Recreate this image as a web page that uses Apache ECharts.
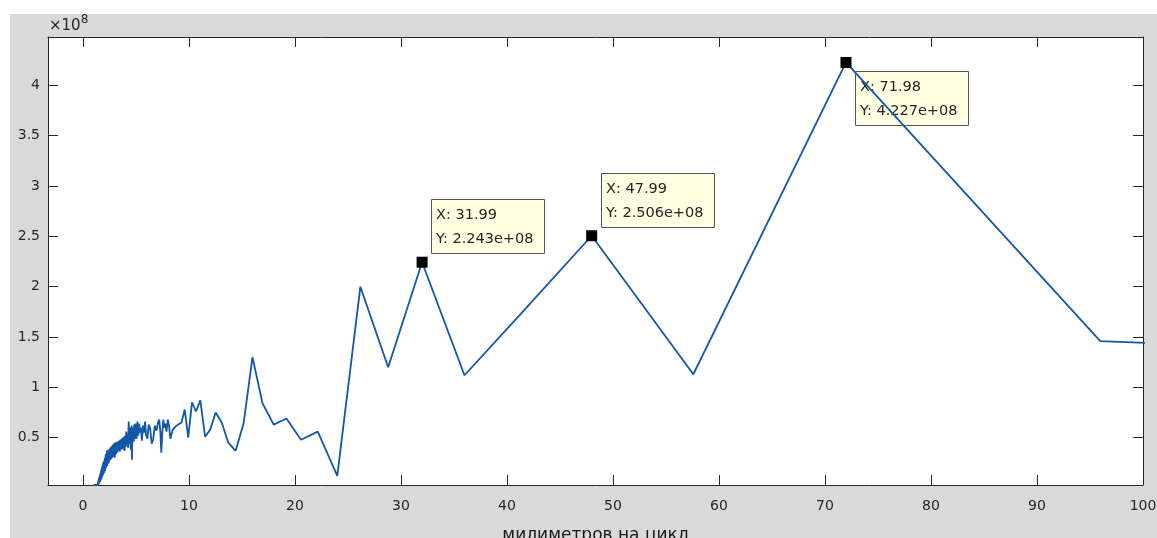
<!DOCTYPE html>
<html>
<head>
<meta charset="utf-8">
<title>Спектр</title>
<script src="https://cdn.jsdelivr.net/npm/echarts@6/dist/echarts.min.js"></script>
<style>
  html, body { margin: 0; padding: 0; background: #ffffff; }
  #chart { width: 1157px; height: 538px; }
</style>
</head>
<body>
<div id="chart"></div>
<script>
// Period (mm per cycle)
const periods = [
  1.00, 1.20, 1.40, 1.42, 1.44, 1.46, 1.48, 1.50, 1.52, 1.54,
  1.56, 1.58, 1.60, 1.62, 1.64, 1.66, 1.68, 1.70, 1.72, 1.74,
  1.76, 1.78, 1.80, 1.82, 1.84, 1.86, 1.88, 1.90, 1.92, 1.94,
  1.96, 1.98, 2.00, 2.02, 2.04, 2.06, 2.08, 2.10, 2.12, 2.14,
  2.16, 2.18, 2.20, 2.22, 2.24, 2.26, 2.28, 2.30, 2.32, 2.34,
  2.36, 2.38, 2.40, 2.42, 2.44, 2.46, 2.48, 2.50, 2.52, 2.54,
  2.56, 2.58, 2.60, 2.62, 2.64, 2.66, 2.68, 2.70, 2.72, 2.74,
  2.76, 2.78, 2.80, 2.82, 2.84, 2.86, 2.88, 2.90, 2.92, 2.94,
  2.96, 2.98, 3.00, 3.03, 3.06, 3.09, 3.12, 3.15, 3.18, 3.21,
  3.24, 3.27, 3.30, 3.33, 3.36, 3.39, 3.42, 3.45, 3.48, 3.51,
  3.54, 3.57, 3.60, 3.63, 3.66, 3.69, 3.72, 3.75, 3.78, 3.81,
  3.84, 3.87, 3.90, 3.93, 3.96, 3.99, 4.02, 4.05, 4.08, 4.11,
  4.14, 4.17, 4.20, 4.23, 4.26, 4.29, 4.32, 4.35, 4.38, 4.41,
  4.44, 4.47, 4.50, 4.53, 4.56, 4.59, 4.62, 4.65, 4.68, 4.71,
  4.74, 4.77, 4.80, 4.83, 4.86, 4.89, 4.92, 4.95, 4.98, 5.06,
  5.14, 5.22, 5.30, 5.38, 5.46, 5.56, 5.66, 5.76, 5.86, 5.96,
  6.08, 6.20, 6.34, 6.48, 6.62, 6.78, 6.94, 7.10, 7.20, 7.30,
  7.39, 7.48, 7.58, 7.68, 7.78, 7.88, 8.00, 8.12, 8.24, 8.47,
  8.72, 9.00, 9.29, 9.60, 9.93, 10.28, 10.66, 11.07, 11.52, 12.00,
  12.52, 13.09, 13.71, 14.40, 15.15, 15.99, 16.94, 17.99, 19.19, 20.57,
  22.15, 23.99, 26.17, 28.79, 31.99, 35.99, 41.13, 47.99, 57.58, 71.98,
  95.97, 143.96
];
// Spectral power (x 1e8)
const power = [
  0.03, 0.03, 0.03, 0.06, 0.03, 0.08, 0.04, 0.10, 0.05, 0.11,
  0.05, 0.12, 0.06, 0.14, 0.07, 0.15, 0.08, 0.17, 0.09, 0.19,
  0.10, 0.20, 0.11, 0.22, 0.12, 0.21, 0.13, 0.25, 0.14, 0.25,
  0.15, 0.27, 0.15, 0.26, 0.17, 0.30, 0.17, 0.29, 0.19, 0.33,
  0.20, 0.34, 0.21, 0.33, 0.22, 0.37, 0.22, 0.35, 0.24, 0.38,
  0.24, 0.36, 0.25, 0.38, 0.25, 0.37, 0.27, 0.39, 0.27, 0.38,
  0.28, 0.40, 0.28, 0.39, 0.29, 0.41, 0.29, 0.40, 0.30, 0.42,
  0.30, 0.41, 0.31, 0.43, 0.31, 0.42, 0.32, 0.44, 0.32, 0.43,
  0.33, 0.45, 0.30, 0.43, 0.33, 0.45, 0.34, 0.46, 0.35, 0.44,
  0.35, 0.46, 0.38, 0.44, 0.37, 0.47, 0.39, 0.43, 0.36, 0.48,
  0.40, 0.45, 0.38, 0.49, 0.41, 0.46, 0.39, 0.50, 0.42, 0.47,
  0.38, 0.51, 0.43, 0.37, 0.52, 0.44, 0.49, 0.41, 0.56, 0.45,
  0.51, 0.43, 0.54, 0.46, 0.40, 0.58, 0.66, 0.47, 0.55, 0.44,
  0.60, 0.48, 0.38, 0.57, 0.49, 0.62, 0.28, 0.53, 0.47, 0.60,
  0.50, 0.56, 0.46, 0.63, 0.51, 0.58, 0.49, 0.64, 0.52, 0.49,
  0.66, 0.52, 0.64, 0.55, 0.60, 0.47, 0.62, 0.55, 0.66, 0.52,
  0.49, 0.63, 0.59, 0.44, 0.48, 0.62, 0.57, 0.66, 0.68, 0.55,
  0.35, 0.55, 0.68, 0.60, 0.64, 0.56, 0.68, 0.62, 0.49, 0.58,
  0.61, 0.63, 0.65, 0.78, 0.50, 0.85, 0.76, 0.87, 0.51, 0.58,
  0.75, 0.65, 0.45, 0.37, 0.64, 1.30, 0.84, 0.63, 0.69, 0.48,
  0.56, 0.12, 2.00, 1.20, 2.243, 1.12, 1.71, 2.506, 1.13, 4.227,
  1.46, 1.26
];

// Annotated peaks (data tips)
const tipX = [31.99, 47.99, 71.98];
const tipY = [2.243, 2.506, 4.227];

// Axis ticks
const xTicks = [0, 10, 20, 30, 40, 50, 60, 70, 80, 90, 100];
const yTicks = [0.5, 1, 1.5, 2, 2.5, 3, 3.5, 4];
const xLabel = 'милиметров на цикл';

// Tip box placement relative to its marker
const tipPlace = ['up', 'up', 'down'];

const FONT = '"DejaVu Sans", Verdana, sans-serif';
const INK = '#262626';
const X_MIN = -3.3, X_MAX = 100, Y_MIN = 0.03, Y_MAX = 4.48;

const chart = echarts.init(document.getElementById('chart'), null, { renderer: 'canvas' });

function frameAxis(extra, ticks) {
  return Object.assign({
    type: 'value',
    axisLine: { show: true, onZero: false, lineStyle: { color: INK, width: 1 } },
    axisTick: { show: true, inside: true, length: 10, customValues: ticks, lineStyle: { color: INK, width: 1 } },
    splitLine: { show: false }
  }, extra);
}

const fmtY = v => v.toFixed(3) + 'e+08';

const option = {
  animation: false,
  backgroundColor: '#ffffff',
  graphic: [
    { type: 'rect', z: -10, shape: { x: 10, y: 14, width: 1147, height: 524 }, style: { fill: '#d9d9d9' }, silent: true },
    {
      type: 'text', left: 49, top: 14, z: 10,
      style: {
        text: '{a|×10}{s|8}',
        rich: {
          a: { fontSize: 15, fontFamily: FONT, fill: INK, padding: [6, 0, 0, 0] },
          s: { fontSize: 12, fontFamily: FONT, fill: INK, padding: [0, 0, 6, 0] }
        }
      }
    }
  ],
  grid: {
    left: 48, top: 37, right: 14, bottom: 53,
    outerBoundsMode: 'none', containLabel: false,
    show: true, backgroundColor: '#ffffff', borderWidth: 0
  },
  xAxis: [
    frameAxis({
      min: X_MIN, max: X_MAX, position: 'bottom',
      axisLabel: { customValues: xTicks, color: INK, fontSize: 14, fontFamily: FONT, margin: 14 },
      name: xLabel, nameLocation: 'middle', nameGap: 42,
      nameTextStyle: { color: '#1a1a1a', fontSize: 17, fontFamily: FONT }
    }, xTicks),
    frameAxis({ min: X_MIN, max: X_MAX, position: 'top', axisLabel: { show: false } }, xTicks)
  ],
  yAxis: [
    frameAxis({
      min: Y_MIN, max: Y_MAX, position: 'left',
      axisLabel: { customValues: yTicks, color: INK, fontSize: 14, fontFamily: FONT, margin: 8,
                   formatter: v => String(v) }
    }, yTicks),
    frameAxis({ min: Y_MIN, max: Y_MAX, position: 'right', axisLabel: { show: false } }, yTicks)
  ],
  series: [
    {
      type: 'custom', z: 1, xAxisIndex: 0, yAxisIndex: 0, silent: true,
      data: tipX.map((x, i) => [x, tipY[i]]),
      renderItem(params, api) {
        const p = api.coord([api.value(0), api.value(1)]);
        const w = 113, h = 54;
        const bx = Math.round(p[0] + 9);
        const by = Math.round(tipPlace[params.dataIndex] === 'up' ? p[1] - 63 : p[1] + 9);
        const xs = api.value(0), ys = api.value(1);
        return {
          type: 'group',
          children: [
            { type: 'rect', shape: { x: bx + 0.5, y: by + 0.5, width: w, height: h },
              style: { fill: '#ffffe1', stroke: '#555555', lineWidth: 1 } },
            { type: 'text', style: { x: bx + 5, y: by + 16, text: 'X: ' + xs.toFixed(2),
              fontSize: 14.5, fontFamily: FONT, fill: INK, verticalAlign: 'middle' } },
            { type: 'text', style: { x: bx + 5, y: by + 40, text: 'Y: ' + fmtY(ys),
              fontSize: 14.5, fontFamily: FONT, fill: INK, verticalAlign: 'middle' } }
          ]
        };
      }
    },
    {
      type: 'line', z: 2, xAxisIndex: 0, yAxisIndex: 0,
      data: periods.map((x, i) => [x, power[i]]),
      showSymbol: false, clip: true, silent: true,
      lineStyle: { color: '#1456a8', width: 1.8 }
    },
    {
      type: 'scatter', z: 3, xAxisIndex: 0, yAxisIndex: 0, silent: true,
      data: tipX.map((x, i) => [x, tipY[i]]),
      symbol: 'rect', symbolSize: 11,
      itemStyle: { color: '#000000', opacity: 1 }
    }
  ]
};

chart.setOption(option);
</script>
</body>
</html>
